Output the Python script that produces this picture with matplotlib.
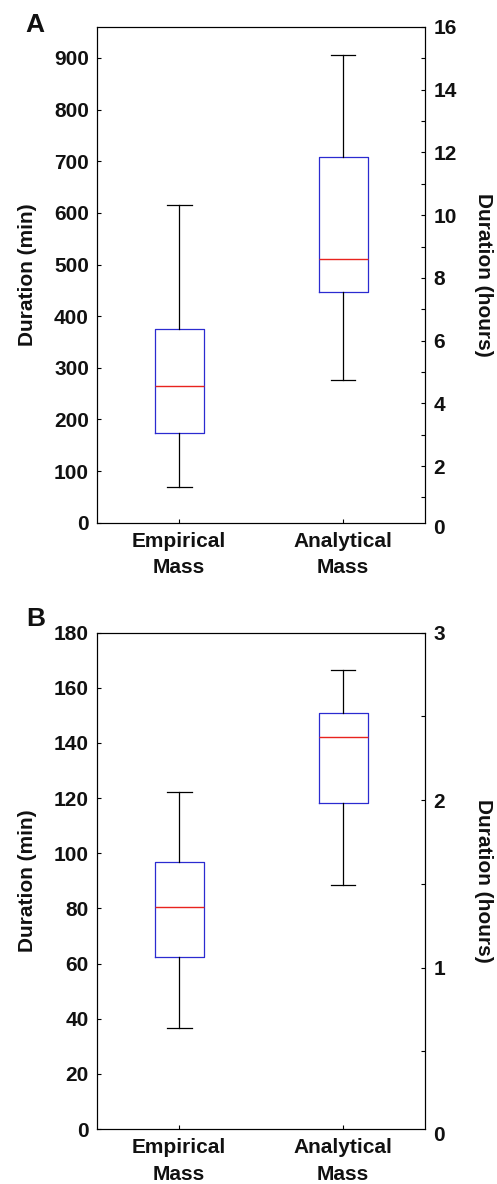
import matplotlib
matplotlib.use("Agg")
import matplotlib.pyplot as plt
import matplotlib.transforms as mtransforms
from matplotlib.ticker import MultipleLocator

plt.rcParams['font.family'] = ['Liberation Sans', 'DejaVu Sans']
plt.rcParams['font.weight'] = 'bold'
plt.rcParams['axes.labelweight'] = 'bold'

groups = ["Empirical\nMass", "Analytical\nMass"]

# panel A, minutes
a_whislo = [69, 276]
a_q1 = [173.5, 447.5]
a_med = [264, 510]
a_q3 = [374.6, 709]
a_whishi = [616, 905]

# panel B, minutes
b_whislo = [36.5, 88.5]
b_q1 = [62.5, 118.1]
b_med = [80.6, 142.1]
b_q3 = [96.8, 151.0]
b_whishi = [122.3, 166.5]

TXT = '#111111'
FS = 15


def make_stats(lo, q1, med, q3, hi):
    stats = []
    for i in range(len(groups)):
        stats.append(dict(whislo=lo[i], q1=q1[i], med=med[i], q3=q3[i],
                          whishi=hi[i], fliers=[], label=groups[i]))
    return stats


def draw_panel(ax, stats, ymax, ystep, hmin, hmax, hstep, hminor, fig):
    ax.bxp(stats, positions=[1, 2], widths=0.3, showfliers=False,
           boxprops=dict(color='#2b2bd0', linewidth=0.9),
           medianprops=dict(color='#e8231e', linewidth=1.0),
           whiskerprops=dict(color='black', linewidth=0.9),
           capprops=dict(color='black', linewidth=0.9),
           capwidths=0.15)
    ax.set_xlim(0.5, 2.5)
    ax.set_ylim(0, ymax)
    ax.yaxis.set_major_locator(MultipleLocator(ystep))
    ax.tick_params(axis='both', direction='in', length=3, width=0.8,
                   labelsize=FS, colors='black', labelcolor=TXT, pad=6)
    ax.tick_params(axis='x', pad=6.5)
    for lab in ax.get_xticklabels():
        lab.set_linespacing(1.5)
    for sp in ax.spines.values():
        sp.set_linewidth(0.8)
    ax.set_ylabel("Duration (min)", fontsize=FS, color=TXT, fontweight='bold')
    ax.yaxis.set_label_coords(-0.183, 0.5)

    ax2 = ax.twinx()
    ax2.set_ylim(hmin, hmax)
    ax2.yaxis.set_major_locator(MultipleLocator(hstep))
    ax2.yaxis.set_minor_locator(MultipleLocator(hminor))
    ax2.tick_params(axis='y', which='both', direction='in', length=3, width=0.8,
                    labelsize=FS, labelcolor=TXT, pad=6)
    ax2.set_ylabel("Duration (hours)", fontsize=FS, color=TXT, rotation=270,
                   va='bottom', rotation_mode='anchor', fontweight='bold')
    ax2.yaxis.set_label_coords(1.148, 0.5)
    # the zero of the hours scale sits just below the box
    tr = mtransforms.blended_transform_factory(ax2.transAxes, ax2.transData)
    tr = tr + mtransforms.ScaledTranslation(6 / 72, 0, fig.dpi_scale_trans)
    ax2.text(1, 0, "0", transform=tr, ha='left', va='center', fontsize=FS,
             color=TXT, clip_on=False)
    return ax2


fig = plt.figure(figsize=(4.97, 11.84), dpi=100)
ax_a = fig.add_axes([0.1958, 0.5585, 0.6594, 0.4187])
ax_b = fig.add_axes([0.1958, 0.04645, 0.6594, 0.4192])

draw_panel(ax_a, make_stats(a_whislo, a_q1, a_med, a_q3, a_whishi),
           960, 100, 0.195, 16, 2, 1, fig)
draw_panel(ax_b, make_stats(b_whislo, b_q1, b_med, b_q3, b_whishi),
           180, 20, 0.036, 3, 1, 0.5, fig)

fig.text(25 / 497, 1 - 32 / 1184, "A", fontsize=19, color=TXT, ha='left', va='baseline')
fig.text(26 / 497, 1 - 626 / 1184, "B", fontsize=19, color=TXT, ha='left', va='baseline')

fig.savefig("out.png", dpi=100)
